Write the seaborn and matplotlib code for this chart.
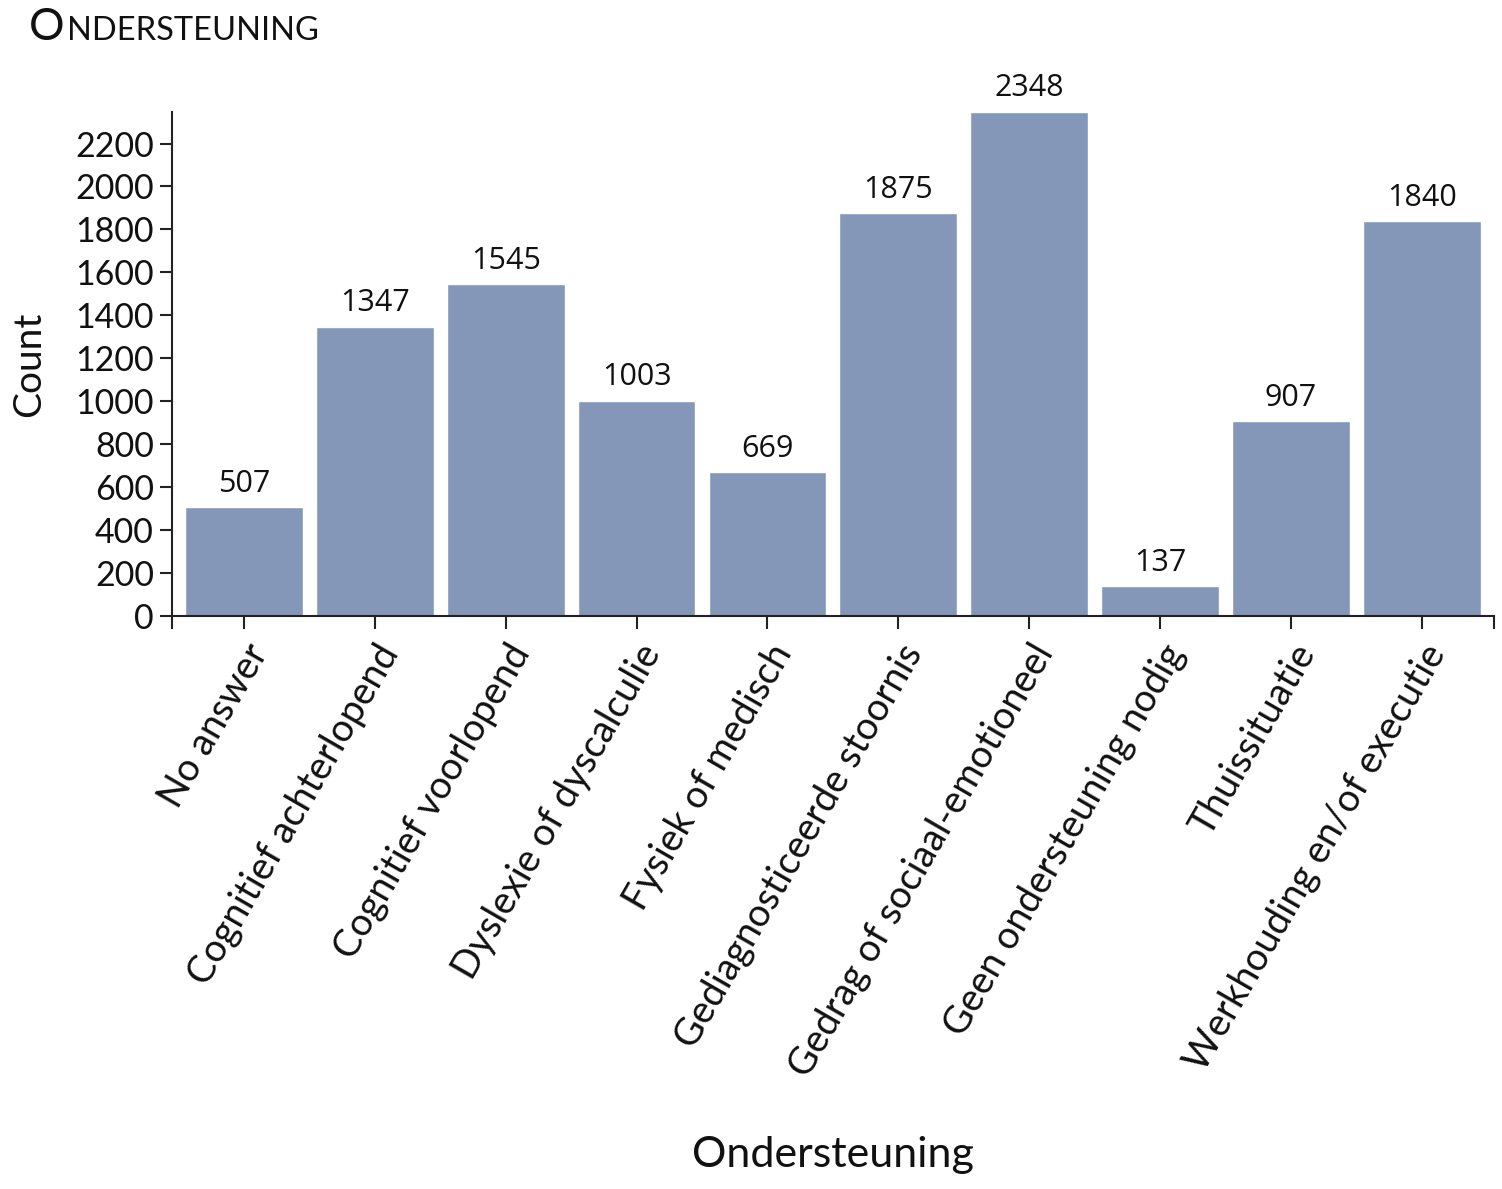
import seaborn as sns
import matplotlib.pyplot as plt
import pandas as pd

# categories and counts
categories = ['No answer', 'Cognitief achterlopend', 'Cognitief voorlopend',
              'Dyslexie of dyscalculie', 'Fysiek of medisch',
              'Gediagnosticeerde stoornis', 'Gedrag of sociaal-emotioneel',
              'Geen ondersteuning nodig', 'Thuissituatie',
              'Werkhouding en/of executie']
counts = [507, 1347, 1545, 1003, 669, 1875, 2348, 137, 907, 1840]
y_ticks = list(range(0, 2201, 200))

df = pd.DataFrame({'Ondersteuning': categories, 'Count': counts})

sns.set_style('ticks')
plt.rcParams['font.family'] = ['Lato', 'DejaVu Sans']
plt.rcParams['text.color'] = '#111111'
plt.rcParams['axes.labelcolor'] = '#111111'
plt.rcParams['xtick.color'] = '#111111'
plt.rcParams['ytick.color'] = '#111111'

fig = plt.figure(figsize=(15.02, 11.89), dpi=100)
ax = fig.add_axes([0.1145, 0.482, 0.88, 0.424])

sns.barplot(data=df, x='Ondersteuning', y='Count', color='#8497b9',
            saturation=1, width=0.9, ax=ax)

for i, v in enumerate(counts):
    ax.annotate(str(v), (i, v), xytext=(0, 6), textcoords='offset points',
                ha='center', va='bottom', fontsize=22, family='Open Sans')

ax.set_ylim(0, max(counts))
ax.set_xlim(-0.55, len(categories) - 0.45)
ax.set_yticks(y_ticks)
ax.set_xticks([-0.55, len(categories) - 0.45], minor=True)
ax.tick_params(axis='both', which='both', length=9, width=1.5, color='#222222')
ax.tick_params(axis='y', labelsize=24.5, pad=4)
ax.tick_params(axis='x', labelsize=27.5, pad=7)
plt.setp(ax.get_xticklabels(), rotation=60, ha='right', rotation_mode='anchor')
for s in ['left', 'bottom']:
    ax.spines[s].set_linewidth(1.5)
    ax.spines[s].set_color('#222222')
sns.despine(ax=ax)

ax.set_ylabel('Count', fontsize=28, labelpad=20)
ax.set_xlabel('Ondersteuning', fontsize=31, labelpad=38)

# small caps style title
fig.text(0.019, 0.966, 'O', fontsize=32, va='baseline')
fig.text(0.0445, 0.966, 'NDERSTEUNING', fontsize=23.5, va='baseline')

fig.savefig('out.png', dpi=100)
